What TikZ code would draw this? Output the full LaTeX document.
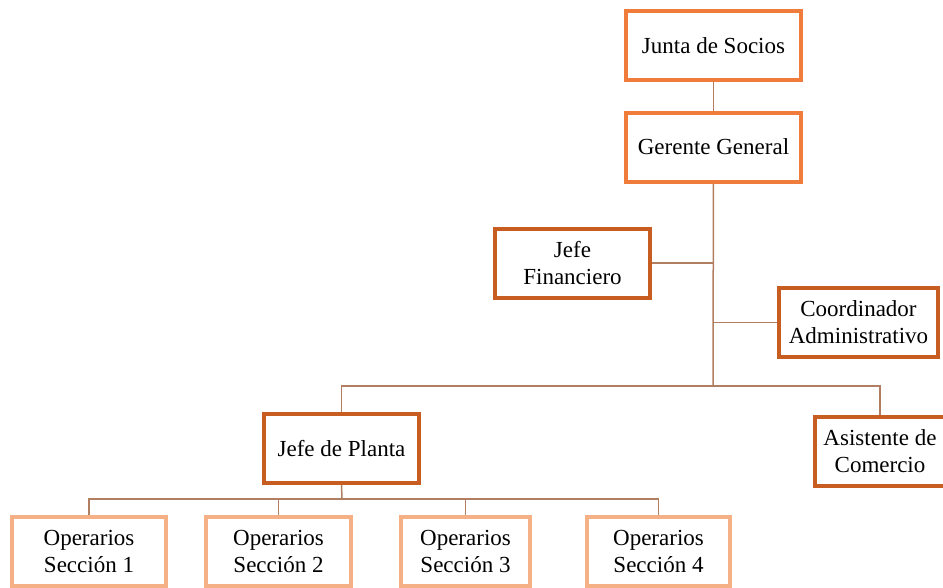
\documentclass[tikz,border=0pt]{standalone}
\usepackage{fontspec}
\setmainfont{Liberation Serif}
\usepackage{xcolor}
\usetikzlibrary{positioning}
\definecolor{orgtop}{HTML}{F07C3C}
\definecolor{orgmid}{HTML}{C85D22}
\definecolor{orglow}{HTML}{F5B185}
\definecolor{orgline}{HTML}{B27E62}

\begin{document}
\begin{tikzpicture}[x=1pt,y=-1pt,
  every node/.style={font=\fontsize{23}{27}\selectfont,align=center,inner sep=0pt},
  topbox/.style={draw=orgtop,line width=4pt,minimum width=175pt,minimum height=69pt},
  midbox/.style={draw=orgmid,line width=4pt,minimum height=69pt},
  opbox/.style={draw=orglow,line width=4pt,minimum height=69pt},
  link/.style={draw=orgline,line width=1.5pt}]
\useasboundingbox (0,0) rectangle (943,587);
% upper levels
\node[topbox] (junta) at (713.5,45.5) {Junta de Socios};
\node[topbox] (gerente) at (713.5,147) {Gerente General};
\node[midbox,minimum width=155pt] (fin) at (572.5,263) {Jefe\\Financiero};
\node[midbox,minimum width=159pt] (coord) at (858.5,322.5) {Coordinador\\Administrativo};
\node[midbox,minimum width=155pt] (planta) at (341.5,448.5) {Jefe de Planta};
\node[midbox,minimum width=130pt] (asist) at (880,451.5) {Asistente de\\Comercio};
% operarios
\node[opbox,minimum width=154pt] (op1) at (89,551.5) {Operarios\\Sección 1};
\node[opbox,minimum width=145pt] (op2) at (278.5,551.5) {Operarios\\Sección 2};
\node[opbox,minimum width=129pt] (op3) at (465.5,551.5) {Operarios\\Sección 3};
\node[opbox,minimum width=143pt] (op4) at (658.5,551.5) {Operarios\\Sección 4};
% connectors
\coordinate (hub) at (713,386);
\coordinate (opbus) at (342,499);
\draw[link] (junta) -- (gerente);
\draw[link] (gerente) -- (hub);
\draw[link] (fin.east) -- (fin.east -| hub);
\draw[link] (coord.west) -- (coord.west -| hub);
\draw[link] (hub) -| (planta.north);
\draw[link] (hub) -| (asist.north);
\draw[link] (planta.south) -- (opbus);
\foreach \op in {op1,op2,op3,op4}
  \draw[link] (opbus) -| (\op.north);
\end{tikzpicture}
\end{document}
